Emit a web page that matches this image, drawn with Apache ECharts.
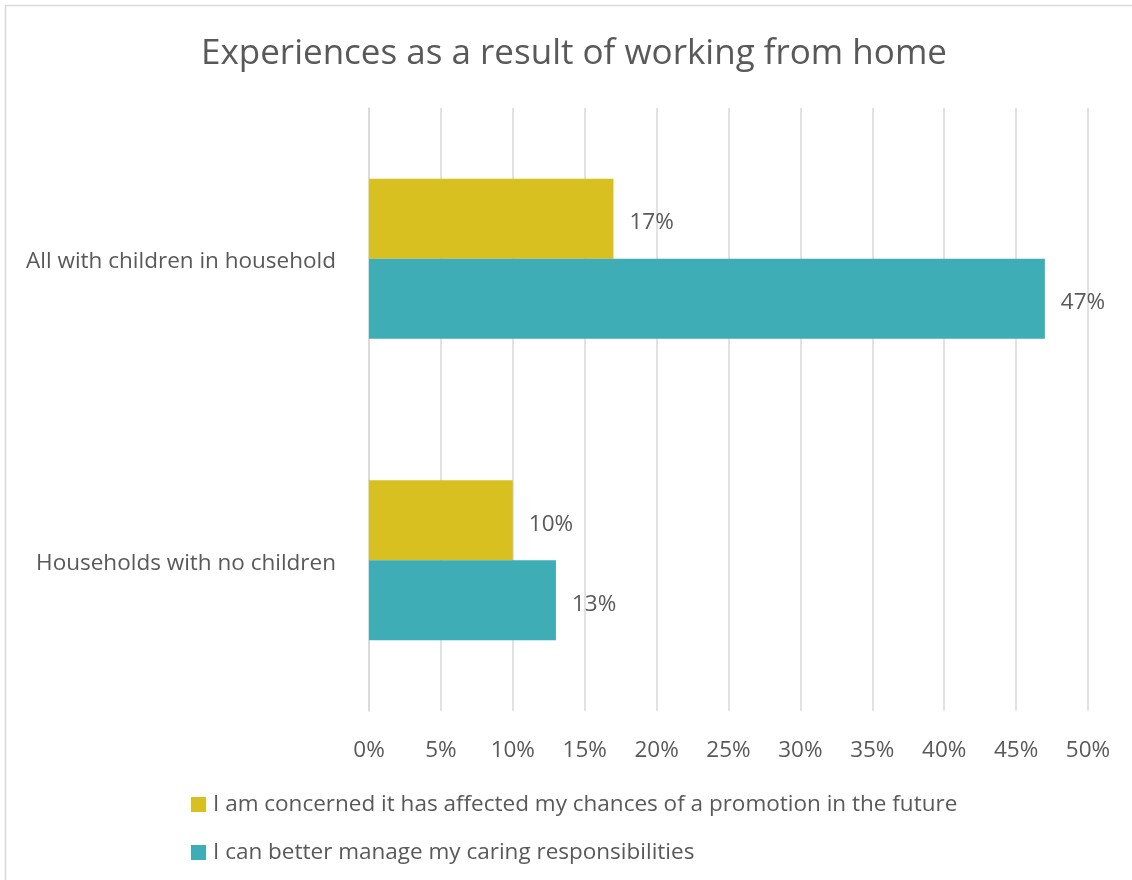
<!DOCTYPE html>
<html>
<head>
<meta charset="utf-8">
<script src="https://cdn.jsdelivr.net/npm/echarts@6/dist/echarts.min.js"></script>
<style>
  html, body { margin: 0; padding: 0; background: #fff; }
  #chart { width: 1132px; height: 880px; }
</style>
</head>
<body>
<div id="chart"></div>
<script>
const titleText = 'Experiences as a result of working from home';
const categories = ['All with children in household', 'Households with no children'];
const seriesNames = [
  'I am concerned it has affected my chances of a promotion in the future',
  'I can better manage my caring responsibilities'
];
const promotionConcern = [17, 10];
const caringBetter = [47, 13];
const seriesColors = ['#D8C021', '#3EADB5'];

const FONT = '"Open Sans", "Noto Sans", sans-serif';
const TEXT = '#595959';
const LABEL_SIZE = 22.5;

const chart = echarts.init(document.getElementById('chart'));

function barSeries(name, data, color) {
  return {
    name: name,
    type: 'bar',
    data: data,
    barWidth: 80,
    barGap: '0%',
    itemStyle: { color: color },
    label: {
      show: true,
      position: 'right',
      distance: 16,
      offset: [0, 4],
      formatter: p => p.value + '%',
      color: TEXT,
      fontFamily: FONT,
      fontSize: LABEL_SIZE
    }
  };
}

chart.setOption({
  backgroundColor: '#fff',
  animation: false,
  graphic: [{
    type: 'rect',
    shape: { x: 5.5, y: 5.5, width: 1200, height: 1000 },
    style: { fill: 'none', stroke: '#D9D9D9', lineWidth: 1.5 },
    silent: true
  }],
  title: {
    text: titleText,
    left: 196,
    top: 32,
    textStyle: { color: TEXT, fontFamily: FONT, fontSize: 35, fontWeight: 'normal' }
  },
  legend: {
    orient: 'vertical',
    left: 186,
    top: 788,
    itemWidth: 15,
    itemHeight: 15,
    itemGap: 25,
    icon: 'rect',
    textStyle: { color: TEXT, fontFamily: FONT, fontSize: LABEL_SIZE, padding: [0, 0, 0, 2] },
    data: seriesNames
  },
  grid: { left: 369, right: 44, top: 108, bottom: 169, containLabel: false },
  xAxis: {
    type: 'value',
    min: 0,
    max: 50,
    interval: 5,
    axisLine: { show: false },
    axisTick: { show: false },
    splitLine: { show: true, lineStyle: { color: '#D9D9D9', width: 1.5 } },
    axisLabel: {
      formatter: v => v + '%',
      color: TEXT,
      fontFamily: FONT,
      fontSize: LABEL_SIZE,
      margin: 28
    }
  },
  yAxis: {
    type: 'category',
    inverse: true,
    data: categories,
    axisLine: { show: true, lineStyle: { color: '#D9D9D9', width: 1.5 } },
    axisTick: { show: false },
    axisLabel: {
      color: TEXT,
      fontFamily: FONT,
      fontSize: LABEL_SIZE,
      margin: 33,
      formatter: v => '{c|' + v + '}',
      rich: {
        c: { color: TEXT, fontFamily: FONT, fontSize: LABEL_SIZE, padding: [6, 0, 0, 0] }
      }
    }
  },
  series: [
    barSeries(seriesNames[0], promotionConcern, seriesColors[0]),
    barSeries(seriesNames[1], caringBetter, seriesColors[1])
  ]
});
</script>
</body>
</html>
